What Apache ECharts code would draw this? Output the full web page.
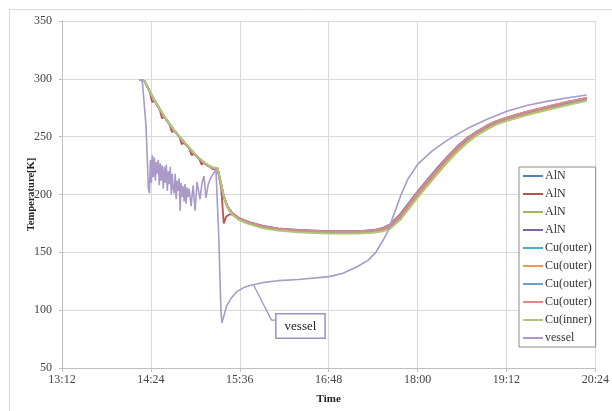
<!DOCTYPE html>
<html><head><meta charset="utf-8">
<script src="https://cdn.jsdelivr.net/npm/echarts@6/dist/echarts.min.js"></script>
<style>html,body{margin:0;padding:0;background:#fff}#c{width:612px;height:411px}</style>
</head><body><div id="c"></div>
<script>
// time in minutes after midnight
const xTicks = [792, 864, 936, 1008, 1080, 1152, 1224]; // 13:12 ... 20:24
const yTicks = [50, 100, 150, 200, 250, 300, 350];

const sensorTimes = [855,859,863,867,871,875,879,883,887,891,895,899,903,907,911,914,918,921,923,926,930,936,943,955,967,984,1008,1032,1045,1052,1058,1066,1078,1088,1096,1104,1112,1120,1128,1136,1144,1152,1168,1185,1201,1217];

const aln1 = [299,298,289,281,274,267,261,255,250,245,240,235.5,231,227.5,224.5,223,222.5,208,198,189,183,178.5,175.5,172,170,168.5,167.5,167.5,168.5,170,173,181,198,211,221,231,240,247.5,253.5,258.5,262.5,265.5,270.5,275,279,282.5];
const aln3 = [299,298,289.5,281.5,274.5,267.5,261.5,255.5,250.5,245.5,240.5,236,231.5,228,225,223.5,223,209,199,189.5,183,178,175,171.3,169.2,167.7,166.7,166.7,167.5,168.8,171.2,178.5,195,208,218,228,237,245,251.5,256.5,261,264,269.3,274,278,281.5];
const aln4 = [299,298,289,281,274,267,261,255,250,245,240,235.5,231,227.5,224.5,223,222.5,208.5,199,190,184,179.3,176.3,172.8,170.8,169.3,168.3,168.3,169.5,171.2,174.5,183,200,213,223,232.5,241.5,248.8,254.5,259.3,263.2,266.2,271,275.5,279.5,283];
const cuOuter1 = [299,298,289,281,274,267,261,255,250,245,240,235.5,231,227.5,224.5,223,222.5,208,198,188.8,182.7,178.2,175.2,171.7,169.7,168.2,167.2,167.2,168.1,169.4,172.2,180,197,210,220,230,239,246.7,252.8,258,262,265,270,274.6,278.6,282.2];
const cuOuter2 = [299,298,289,281,274,267,261,255,250,245,240,235.5,231,227.5,224.5,223,222.5,208,198,188.5,182.4,177.9,174.9,171.4,169.4,167.9,166.9,166.9,167.8,169,171.7,179.5,196.5,209.5,219.5,229.5,238.5,246.2,252.3,257.5,261.6,264.7,269.7,274.4,278.4,282];
const cuOuter3 = [299,298,289,281,274,267,261,255,250,245,240,235.5,231,227.5,224.5,223,222.5,208,198,189.2,183.2,178.7,175.7,172.2,170.2,168.7,167.7,167.7,168.7,170.2,173.2,181.2,198.2,211.2,221.2,231.2,240.2,247.7,253.7,258.7,262.7,265.7,270.7,275.3,279.3,282.8];
const cuOuter4 = [299,298,289,281,274,267,261,255,250,245,240,235.5,231,227.5,224.5,223,222.5,208.3,198.5,189.5,183.5,179,176,172.5,170.5,169,168,168,169.2,170.8,174,182,199,212,222,232,241,248.5,254.5,259.5,263.5,266.5,271.5,276,280,283.5];
const cuInner = [299,298,289.5,281.5,274.5,267.5,261.5,255.5,250.5,245.5,240.5,236,231.5,228,225,223.5,223,209,199,189,182.5,177.5,174.5,170.7,168.7,167.2,166.2,166.2,167,168.2,170.5,178,194.5,207.5,217.5,227.5,236.5,244.5,251,256,260.5,263.5,268.5,273,277,281];

const aln2Times = [855,859,863,865,867,871,873,875,879,881,883,887,889,891,895,897,899,903,905,907,911,914,918,921,922,923,925,928,930,936,943,955,967,984,1008,1032,1045,1052,1058,1066,1078,1088,1096,1104,1112,1120,1128,1136,1144,1152,1168,1185,1201,1217];
const aln2 = [299,298,289,280,281,274,266,267,261,254,255,250,243.5,245,240,234,235.5,231,226,227.5,224.5,222,222.5,205,190,175,181,183,182.5,178.8,175.8,172.3,170.3,168.8,167.8,167.8,169,170.5,173.5,182,199,212,222,232,241,248.5,254.5,259.5,263.5,266.5,271.5,276,280,283.5];

const vesselTimes = [855,857,858,860,862,862.8,863.6,864.4,865.2,866,866.8,867.6,868.4,869.2,870,870.8,871.6,872.4,873.2,874,874.9,875.7,876.5,877.3,878.1,878.9,879.7,880.5,881.3,882.1,882.9,883.7,884.5,885.3,886.1,886.9,887.7,888.5,889.3,890.1,890.9,891.7,892.5,893.3,894.2,895,896.6,898.2,899.8,901.4,903.8,905.4,907,908.6,910.3,911.9,913.5,915.1,916.7,917.5,919.1,920.7,921.5,923.1,925.5,928.8,933.6,939.2,944.9,955.3,967.4,983.5,1008.4,1019.7,1031.7,1039.8,1046.2,1051.8,1055.9,1059.9,1066.3,1072,1080,1092.1,1104.2,1120.2,1136.3,1152.4,1168.5,1184.6,1200.7,1216.8];
const vessel = [299,299,298,260,205,201,230,210,234,215,232,212,228,218,230,208,227,212,225,205,224,210,226,203,220,209,224,200,218,205,201,218,196,212,203,214,186,210,198,207,194,209,192,206,198,205,190,208,186,211,196,210,216,197,208,213,216,219,222,221,160,100,89,95,104,110,116,119.5,121.5,124,125.5,126.5,129,132,138,143,150,160,168,180,199,213,226,238,247,257,265,272,277,280.5,283.5,286];

// annotation leader for "vessel" callout (data coordinates)
const noteLeader = [[947.3,121.6],[961.7,91.4],[965.8,91.4]];

const seriesDefs = [
  {name:'AlN#1', color:'#4F81BD', t:sensorTimes, v:aln1},
  {name:'AlN#2', color:'#C0504D', t:aln2Times, v:aln2},
  {name:'AlN#3', color:'#9BBB59', t:sensorTimes, v:aln3},
  {name:'AlN#4', color:'#8064A2', t:sensorTimes, v:aln4},
  {name:'Cu(outer)#1', color:'#4BACC6', t:sensorTimes, v:cuOuter1},
  {name:'Cu(outer)#2', color:'#F79646', t:sensorTimes, v:cuOuter2},
  {name:'Cu(outer)#3', color:'#729ACA', t:sensorTimes, v:cuOuter3},
  {name:'Cu(outer)#4', color:'#E08A88', t:sensorTimes, v:cuOuter4},
  {name:'Cu(inner)#1', color:'#AFC97A', t:sensorTimes, v:cuInner},
  {name:'vessel#1', color:'#A99AC8', t:vesselTimes, v:vessel}
];

const fmtTime = m => { const h = Math.floor(m/60), mm = Math.round(m%60); return h + ':' + (mm<10?'0':'') + mm; };
const serif = '"Liberation Serif","Times New Roman",serif';

const series = seriesDefs.map(d => ({
  name: d.name, type:'line', symbol:'none', smooth:false, animation:false,
  data: d.t.map((t,i)=>[t,d.v[i]]),
  lineStyle:{color:d.color, width: d.name.startsWith('vessel') ? 1.6 : 1.8},
  itemStyle:{color:d.color}
}));
series.push({
  name:'note', type:'line', symbol:'none', animation:false, silent:true,
  data: noteLeader,
  lineStyle:{color:'#9D8FC5', width:1.2},
  endLabel:{show:true, formatter:'vessel', distance:0, offset:[0,6],
    backgroundColor:'#fff', borderColor:'#9D8FC5', borderWidth:1.5,
    padding:[5,8,5,8], fontFamily:serif, fontSize:13, color:'#222'}
});

const chart = echarts.init(document.getElementById('c'), null, {renderer:'canvas'});
chart.setOption({
  animation:false,
  backgroundColor:'#fff',
  graphic:[{type:'rect', shape:{x:9.5,y:9.5,width:640,height:440}, style:{fill:'none', stroke:'#d9d9d9', lineWidth:1}, silent:true, z:-1}],
  grid:{left:62, right:13, top:21, bottom:43},
  xAxis:{type:'value', min:xTicks[0], max:xTicks[xTicks.length-1], interval:72,
    name:'Time', nameLocation:'middle', nameGap:26, nameMoveOverlap:false,
    nameTextStyle:{fontFamily:serif, fontWeight:'bold', fontSize:11, color:'#222'},
    axisLine:{lineStyle:{color:'#bfbfbf'}}, axisTick:{show:true, length:4, lineStyle:{color:'#bfbfbf'}},
    axisLabel:{formatter:fmtTime, fontFamily:serif, fontSize:12, color:'#444', margin:6},
    splitLine:{show:true, lineStyle:{color:'#d9d9d9'}}},
  yAxis:{type:'value', min:yTicks[0], max:yTicks[yTicks.length-1], interval:50,
    name:'Temperature[K]', nameLocation:'middle', nameGap:25, nameRotate:90, nameMoveOverlap:false,
    nameTextStyle:{fontFamily:serif, fontWeight:'bold', fontSize:10.5, color:'#222'},
    axisLine:{show:true, lineStyle:{color:'#bfbfbf'}}, axisTick:{show:true, length:3, lineStyle:{color:'#bfbfbf'}},
    axisLabel:{fontFamily:serif, fontSize:12, color:'#444', margin:10},
    splitLine:{show:true, lineStyle:{color:'#d9d9d9'}}},
  legend:{data: seriesDefs.map(d=>d.name), orient:'vertical', left:519, top:167,
    backgroundColor:'#fff', borderColor:'#8c8c8c', borderWidth:1,
    icon:'rect', padding:[3,4,3,4], itemWidth:20, itemHeight:2, itemGap:6,
    formatter: n => n.split('#')[0],
    textStyle:{fontFamily:serif, fontSize:12, lineHeight:12, color:'#333', padding:[0,0,0,-3]}},
  series: series
});
</script></body></html>
